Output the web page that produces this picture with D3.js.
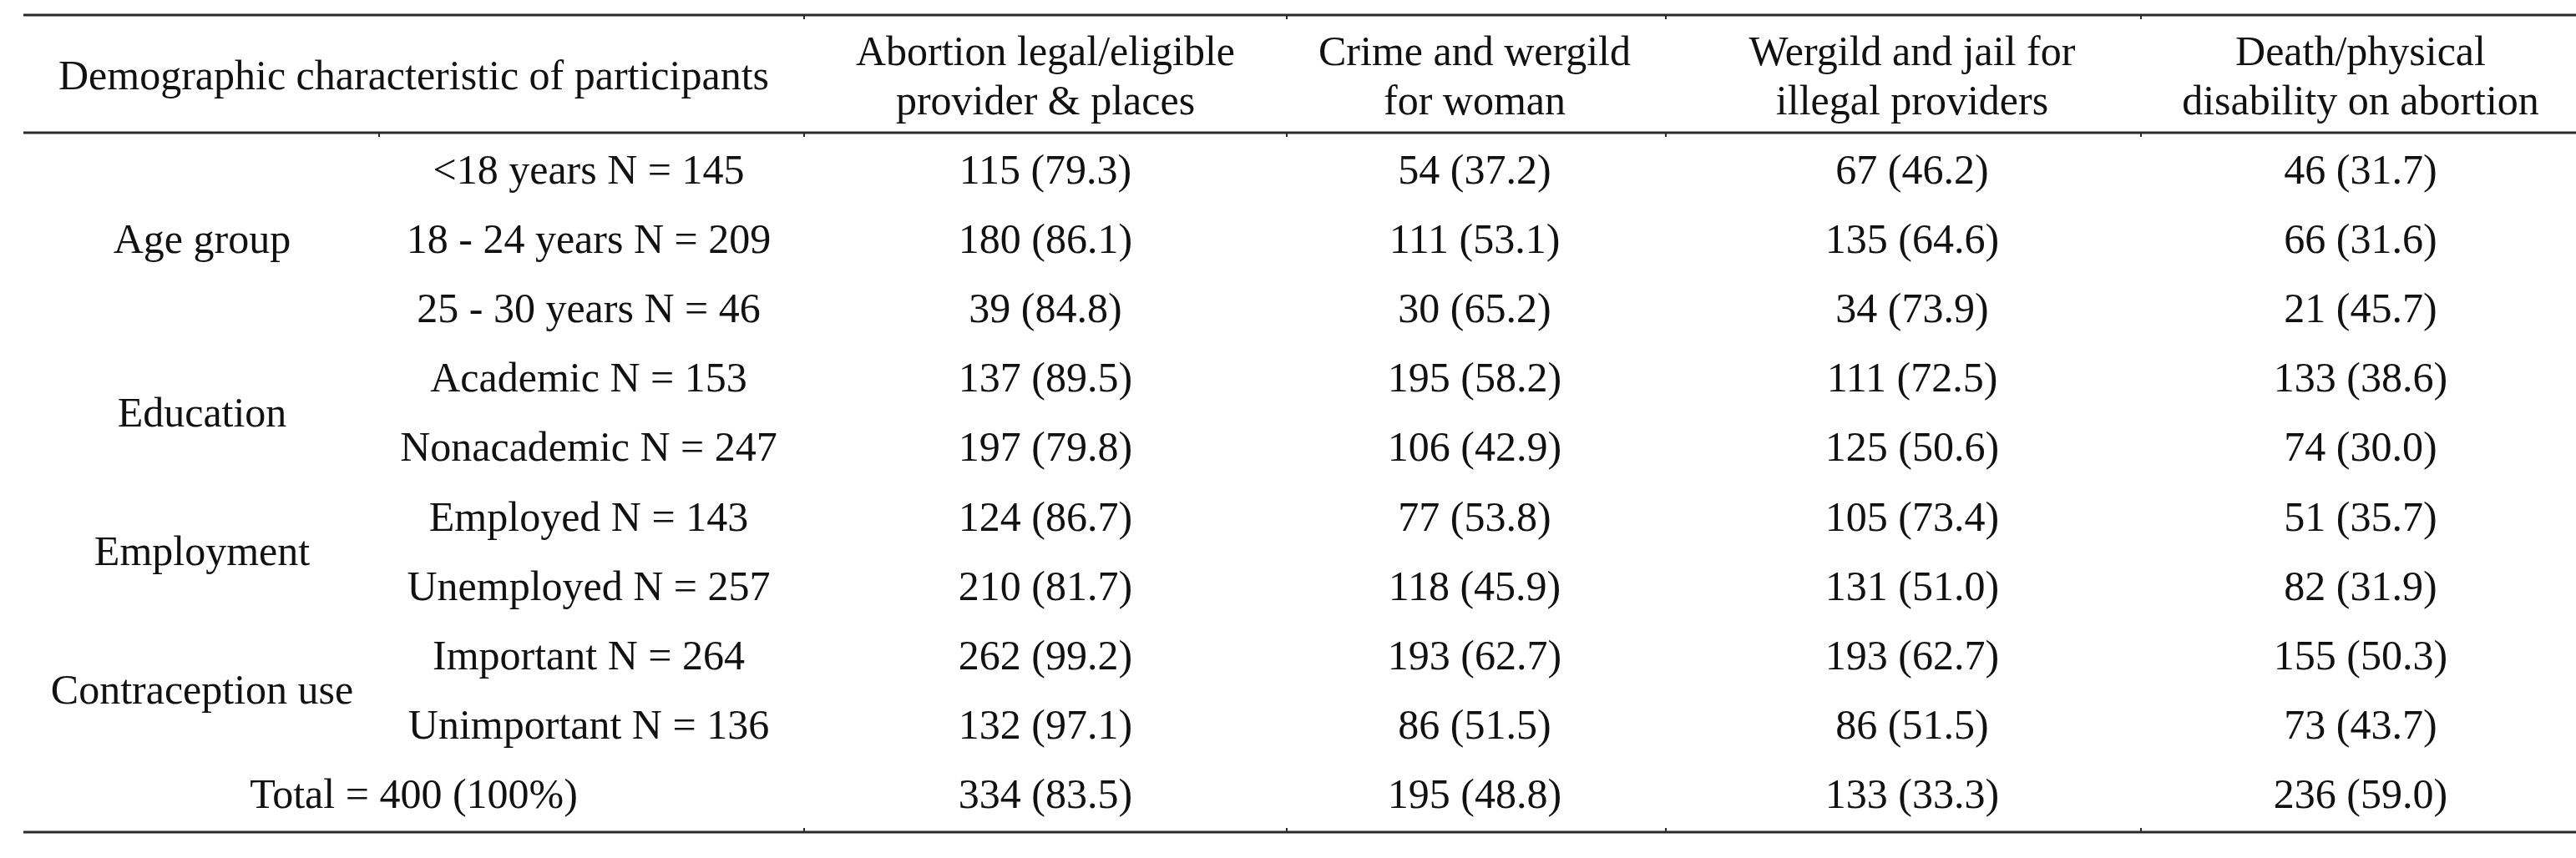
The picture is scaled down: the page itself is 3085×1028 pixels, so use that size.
<!DOCTYPE html>
<html>
<head>
<meta charset="utf-8">
<script src="https://cdn.jsdelivr.net/npm/d3@7"></script>
<style>
  html, body { margin: 0; padding: 0; background: #fff; }
  svg { display: block; }
</style>
</head>
<body>
<svg id="table"></svg>
<script>
// ---- data ----
const headerFirst = "Demographic characteristic of participants";
const columnHeaders = [
    ["Abortion legal/eligible", "provider & places"],
    ["Crime and wergild", "for woman"],
    ["Wergild and jail for", "illegal providers"],
    ["Death/physical", "disability on abortion"]
];
const groups = [
    { name: "Age group", first: 0, count: 3 },
    { name: "Education", first: 3, count: 2 },
    { name: "Employment", first: 5, count: 2 },
    { name: "Contraception use", first: 7, count: 2 }
];
const subgroups = [
    "<18 years N = 145",
    "18 - 24 years N = 209",
    "25 - 30 years N = 46",
    "Academic N = 153",
    "Nonacademic N = 247",
    "Employed N = 143",
    "Unemployed N = 257",
    "Important N = 264",
    "Unimportant N = 136"
];
const totalLabel = "Total = 400 (100%)";
const legalCounts   = [115, 180, 39, 137, 197, 124, 210, 262, 132, 334];
const legalPct      = [79.3, 86.1, 84.8, 89.5, 79.8, 86.7, 81.7, 99.2, 97.1, 83.5];
const crimeCounts   = [54, 111, 30, 195, 106, 77, 118, 193, 86, 195];
const crimePct      = [37.2, 53.1, 65.2, 58.2, 42.9, 53.8, 45.9, 62.7, 51.5, 48.8];
const jailCounts    = [67, 135, 34, 111, 125, 105, 131, 193, 86, 133];
const jailPct       = [46.2, 64.6, 73.9, 72.5, 50.6, 73.4, 51.0, 62.7, 51.5, 33.3];
const deathCounts   = [46, 66, 21, 133, 74, 51, 82, 155, 73, 236];
const deathPct      = [31.7, 31.6, 45.7, 38.6, 30.0, 35.7, 31.9, 50.3, 43.7, 59.0];

const seriesCounts = [legalCounts, crimeCounts, jailCounts, deathCounts];
const seriesPct = [legalPct, crimePct, jailPct, deathPct];

// ---- layout ----
const width = 3085, height = 1028;
const boundaries = [28, 454, 963, 1541, 1995, 2564, 3085];
const valueCenters = [1252, 1766, 2290, 2827];
const lineTop = 18, lineHead = 159, lineBottom = 997;

const svg = d3.select("#table")
    .attr("width", width)
    .attr("height", height)
    .attr("viewBox", [0, 0, width, height])
    .style("font-family", "'Liberation Serif', 'Times New Roman', serif")
    .style("font-size", "50px");

const y = d3.scaleLinear().domain([0, 9]).range([220, 968]);
const colX = d3.scaleOrdinal().domain(d3.range(4)).range(valueCenters);

const catX = (boundaries[0] + boundaries[1]) / 2 + 1;
const subX = 705;
const firstX = (boundaries[0] + boundaries[2]) / 2;

// rules
const rules = svg.append("g").attr("stroke", "#2a2a2a").attr("stroke-width", 3);
[lineTop, lineHead, lineBottom].forEach(ly => {
    rules.append("line")
        .attr("x1", boundaries[0]).attr("x2", width)
        .attr("y1", ly).attr("y2", ly);
});

// small column stubs on the rules
const stubs = svg.append("g").attr("stroke", "#2a2a2a").attr("stroke-width", 2);
boundaries.slice(2, 6).forEach(bx => {
    stubs.append("line").attr("x1", bx).attr("x2", bx).attr("y1", lineTop).attr("y2", lineTop + 5);
    stubs.append("line").attr("x1", bx).attr("x2", bx).attr("y1", lineBottom - 5).attr("y2", lineBottom);
});
boundaries.slice(1, 6).forEach(bx => {
    stubs.append("line").attr("x1", bx).attr("x2", bx).attr("y1", lineHead).attr("y2", lineHead + 5);
});

const text = svg.append("g").attr("fill", "#111").attr("text-anchor", "middle");

// header
text.append("text")
    .attr("x", firstX).attr("y", 107)
    .text(headerFirst);

text.selectAll("text.head")
    .data(columnHeaders)
    .join("text")
    .attr("class", "head")
    .attr("x", (d, i) => colX(i))
    .attr("y", 78)
    .selectAll("tspan")
    .data(d => d)
    .join("tspan")
    .attr("x", function () { return this.parentNode.getAttribute("x"); })
    .attr("dy", (d, i) => i === 0 ? 0 : 59)
    .text(d => d);

// group labels
text.selectAll("text.group")
    .data(groups)
    .join("text")
    .attr("class", "group")
    .attr("x", catX)
    .attr("y", d => y(d.first + (d.count - 1) / 2))
    .text(d => d.name);

// subgroup labels
text.selectAll("text.sub")
    .data(subgroups)
    .join("text")
    .attr("class", "sub")
    .attr("x", subX)
    .attr("y", (d, i) => y(i))
    .text(d => d);

// total label
text.append("text")
    .attr("x", firstX).attr("y", y(9))
    .text(totalLabel);

// values
seriesCounts.forEach((counts, c) => {
    text.selectAll("text.v" + c)
        .data(counts)
        .join("text")
        .attr("class", "v" + c)
        .attr("x", colX(c))
        .attr("y", (d, i) => y(i))
        .text((d, i) => `${d} (${seriesPct[c][i].toFixed(1)})`);
});
</script>
</body>
</html>
